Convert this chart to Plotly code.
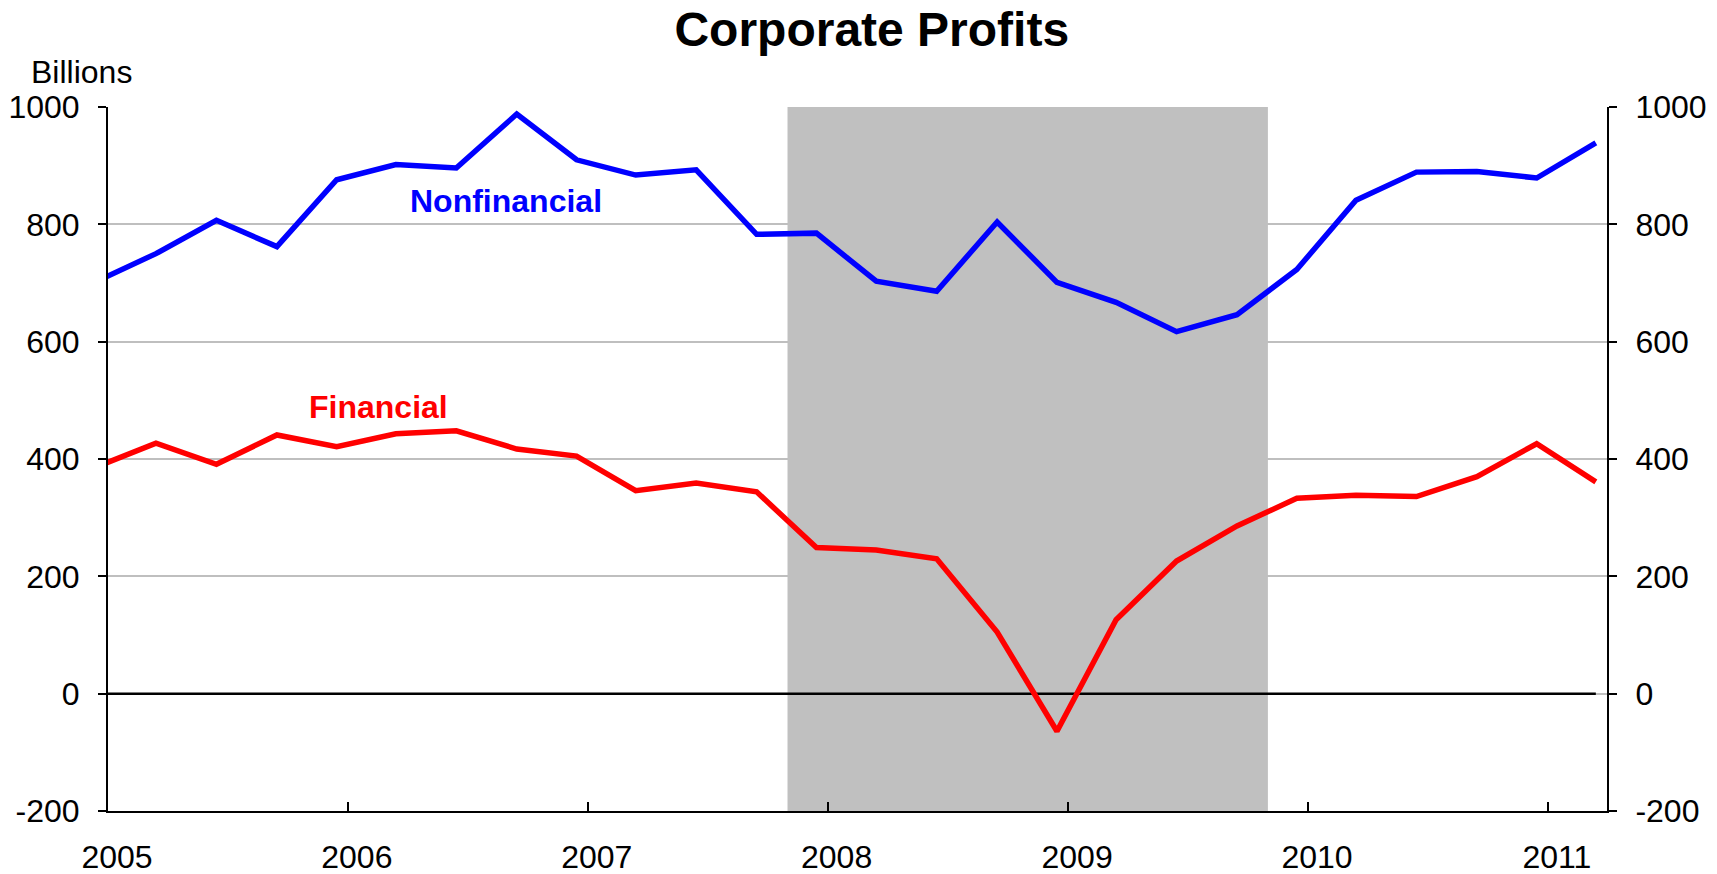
import plotly.graph_objects as go

# Quarterly observations (plotted mid-last-month of each quarter)
dates = ["2004-12-15", "2005-03-15", "2005-06-15", "2005-09-15",
         "2005-12-15", "2006-03-15", "2006-06-15", "2006-09-15",
         "2006-12-15", "2007-03-15", "2007-06-15", "2007-09-15",
         "2007-12-15", "2008-03-15", "2008-06-15", "2008-09-15",
         "2008-12-15", "2009-03-15", "2009-06-15", "2009-09-15",
         "2009-12-15", "2010-03-15", "2010-06-15", "2010-09-15",
         "2010-12-15", "2011-03-15"]

nonfinancial = [703, 750, 807, 762, 876, 902, 896, 988, 910, 884, 893, 783,
                785, 703, 686, 804, 701, 667, 617, 646, 723, 841, 889, 890,
                879, 939]

financial = [387, 427, 391, 441, 421, 443, 448, 417, 405, 346, 359, 344,
             249, 245, 230, 105, -64, 126, 226, 286, 333, 338, 336, 370,
             426, 361]

zero_series = [0] * len(dates)

year_ticks = ["2005-01-01", "2006-01-01", "2007-01-01", "2008-01-01",
              "2009-01-01", "2010-01-01", "2011-01-01"]
year_labels = ["2005", "2006", "2007", "2008", "2009", "2010", "2011"]

y_ticks = [-200, 0, 200, 400, 600, 800, 1000]
y_labels = ["-200", "0", "200", "400", "600", "800", "1000"]

recession = ("2007-11-01", "2009-11-01")
x_range = ["2005-01-01", "2011-04-01"]
y_range = [-200, 1000]

FONT = "Arial, Liberation Sans, sans-serif"
TICK_SIZE = 32

fig = go.Figure()

fig.add_trace(go.Scatter(x=dates, y=zero_series, mode="lines",
                         line=dict(color="black", width=2.5),
                         hoverinfo="skip", showlegend=False))
fig.add_trace(go.Scatter(x=dates, y=nonfinancial, mode="lines",
                         name="Nonfinancial",
                         line=dict(color="#0000FF", width=5.5),
                         showlegend=False))
fig.add_trace(go.Scatter(x=dates, y=financial, mode="lines",
                         name="Financial",
                         line=dict(color="#FF0000", width=5.5),
                         showlegend=False))
# dummy trace to show the right-hand axis
fig.add_trace(go.Scatter(x=[dates[1]], y=[0], yaxis="y2", mode="markers",
                         marker=dict(opacity=0), hoverinfo="skip",
                         showlegend=False))

fig.add_shape(type="rect", xref="x", yref="y",
              x0=recession[0], x1=recession[1], y0=-205, y1=1000,
              fillcolor="#C0C0C0", line=dict(width=0), layer="between")

yaxis_common = dict(range=y_range, tickvals=y_ticks, ticktext=y_labels,
                    ticks="outside", ticklen=8, tickwidth=2,
                    tickcolor="black", showline=True, linecolor="black",
                    linewidth=2, zeroline=False, automargin=False,
                    ticklabelstandoff=12,
                    tickfont=dict(family=FONT, size=TICK_SIZE, color="black"))

# the page body has an 8px margin, so the figure is offset accordingly
fig.update_layout(
    width=1701, height=866,
    margin=dict(l=100, r=102, t=99, b=63),
    paper_bgcolor="white", plot_bgcolor="white",
    font=dict(family=FONT, size=TICK_SIZE, color="black"),
    title=dict(text="<b>Corporate Profits</b>", x=0.5078, xanchor="center",
               y=0.9755, yanchor="middle", yref="container",
               font=dict(family=FONT, size=48, color="black")),
    xaxis=dict(type="date", range=x_range, tickvals=year_ticks,
               ticktext=year_labels, ticks="inside", ticklen=9,
               tickwidth=2, tickcolor="black", showline=True,
               linecolor="black", linewidth=2, showgrid=False,
               zeroline=False, automargin=False, ticklabelshift=9,
               ticklabelstandoff=17,
               tickfont=dict(family=FONT, size=TICK_SIZE, color="black")),
    yaxis=dict(showgrid=True, gridcolor="#BFBFBF", gridwidth=2,
               **yaxis_common),
    yaxis2=dict(overlaying="y", side="right", showgrid=False,
                **yaxis_common),
    annotations=[
        dict(text="Billions", xref="paper", yref="paper", x=-0.0525,
             y=1.0502, xanchor="left", yanchor="middle", showarrow=False,
             font=dict(family=FONT, size=32, color="black")),
        dict(text="<b>Nonfinancial</b>", xref="x", yref="y",
             x="2006-08-30", y=840, showarrow=False,
             font=dict(family=FONT, size=32, color="#0000FF")),
        dict(text="<b>Financial</b>", xref="x", yref="y",
             x="2006-02-16", y=488, showarrow=False,
             font=dict(family=FONT, size=32, color="#FF0000")),
    ],
)

fig.write_html("out.html")
